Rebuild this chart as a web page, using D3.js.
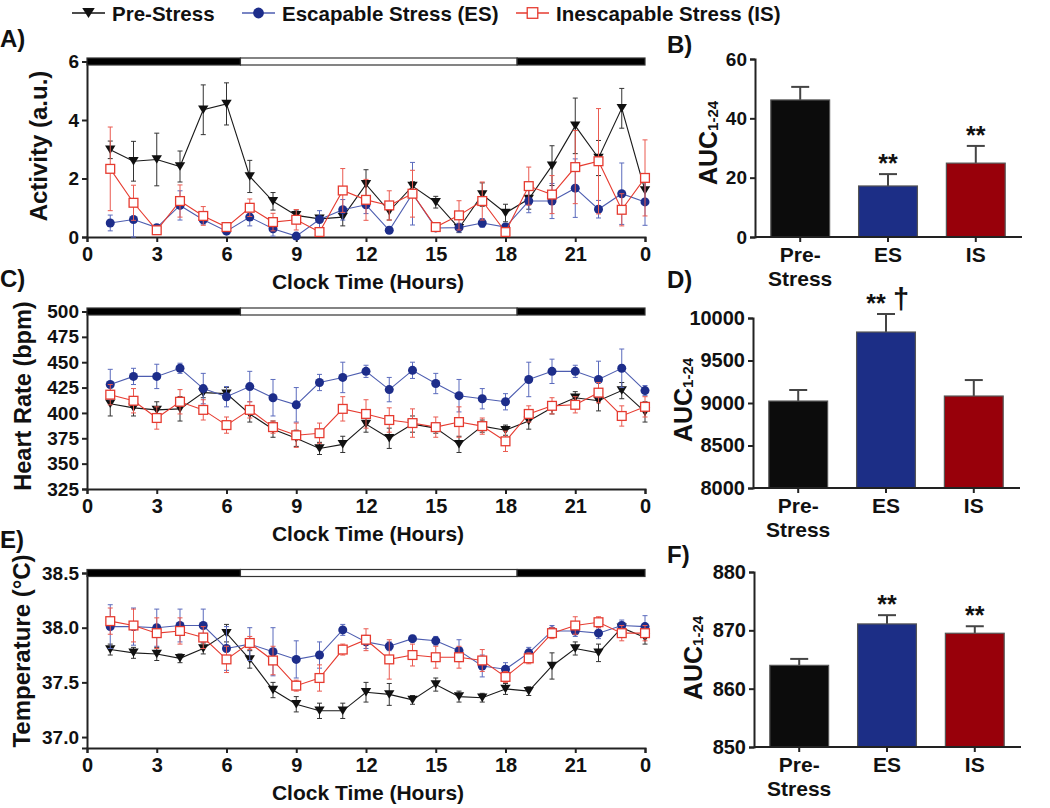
<!DOCTYPE html>
<html>
<head>
<meta charset="utf-8">
<script src="https://d3js.org/d3.v7.min.js"></script>
<style>
html,body{margin:0;padding:0;background:#fff;}
svg text{font-family:"Liberation Sans",Arial,Helvetica,sans-serif;font-weight:bold;fill:#111;}
</style>
</head>
<body>
<svg id="chart" width="1050" height="808"></svg>
<script>
// ---------------- DATA ----------------
const hours = [1,2,3,4,5,6,7,8,9,10,11,12,13,14,15,16,17,18,19,20,21,22,23,24];
const xTickValues = [0,3,6,9,12,15,18,21,24];
const xTickLabels = ["0","3","6","9","12","15","18","21","0"];
const seriesNames = ["Pre-Stress","Escapable Stress (ES)","Inescapable Stress (IS)"];
const barCategories = ["Pre-Stress","ES","IS"];
// light/dark schedule (hours)
const lightPhases = [{start:0,end:6.6,dark:true},{start:6.6,end:18.5,dark:false},{start:18.5,end:24,dark:true}];

// Activity (a.u.)
const actPre    = [2.98,2.59,2.65,2.41,4.35,4.55,2.07,1.22,0.74,0.62,0.68,1.80,0.88,1.74,1.19,0.30,1.45,0.82,1.30,2.44,3.80,2.70,4.40,1.59];
const actPreErr = [0.30,0.68,0.90,0.53,0.85,0.72,0.55,0.30,0.18,0.10,0.30,0.50,0.30,0.15,0.20,0.15,0.40,0.30,0.35,0.68,0.95,0.60,0.68,0.30];
const actES     = [0.48,0.60,0.32,1.08,0.59,0.20,0.68,0.28,0.03,0.60,0.93,1.10,0.23,1.48,0.31,0.32,0.48,0.34,1.23,1.23,1.67,0.95,1.48,1.20];
const actESErr  = [0.27,0.60,0.10,0.50,0.15,0.05,0.30,0.25,0.05,0.30,0.35,0.30,0.05,1.07,0.10,0.15,0.15,0.10,0.40,0.60,1.00,0.30,1.05,0.80];
const actIS     = [2.33,1.17,0.23,1.23,0.72,0.34,1.00,0.51,0.59,0.17,1.59,1.27,1.08,1.48,0.34,0.74,1.23,0.17,1.74,1.45,2.39,2.59,0.93,2.02];
const actISErr  = [1.43,0.60,0.05,0.55,0.32,0.10,0.30,0.30,0.35,0.05,0.75,0.70,0.50,0.80,0.10,0.50,0.65,0.10,0.65,0.65,1.25,1.80,0.55,1.30];

// Heart rate (bpm)
const hrPre    = [409,405,403,404,420,419,399,384,375,365,369,389,375,389,385,369,387,383,392,405,415,412,422,401];
const hrPreErr = [12,8,8,12,5,6,8,8,8,6,8,8,10,8,5,8,6,5,8,6,6,10,8,10];
const hrES     = [428,436,436,444,424,416,426,415,408,430,435,441,423,442,429,417,414,411,433,441,441,433,444,422];
const hrESErr  = [15,8,12,5,15,10,15,18,17,8,15,6,12,8,10,16,10,8,17,12,6,18,19,5];
const hrIS     = [418,412,395,411,403,388,403,386,378,380,404,399,393,390,386,391,387,372,399,407,408,420,397,406];
const hrISErr  = [10,12,11,12,10,8,8,6,12,10,12,14,12,14,10,15,8,10,8,8,8,10,10,10];

// Temperature (°C)
const tPre    = [37.80,37.77,37.76,37.72,37.81,37.95,37.71,37.43,37.30,37.24,37.24,37.41,37.39,37.34,37.48,37.37,37.36,37.44,37.42,37.65,37.81,37.77,38.00,37.91];
const tPreErr = [0.05,0.05,0.06,0.04,0.05,0.08,0.08,0.07,0.07,0.07,0.07,0.09,0.10,0.04,0.06,0.05,0.04,0.05,0.04,0.12,0.06,0.08,0.05,0.06];
const tES     = [38.01,38.01,38.00,38.02,38.02,37.81,37.85,37.78,37.71,37.75,37.98,37.87,37.83,37.90,37.88,37.79,37.65,37.62,37.77,37.97,37.97,37.95,38.02,38.01];
const tESErr  = [0.20,0.17,0.17,0.15,0.15,0.20,0.15,0.22,0.17,0.12,0.05,0.06,0.04,0.03,0.04,0.10,0.10,0.06,0.05,0.05,0.05,0.05,0.05,0.10];
const tIS     = [38.06,38.02,37.95,37.97,37.91,37.71,37.86,37.70,37.47,37.54,37.80,37.89,37.71,37.75,37.73,37.73,37.70,37.55,37.72,37.95,38.02,38.05,37.95,37.95];
const tISErr  = [0.12,0.15,0.14,0.12,0.10,0.12,0.06,0.13,0.05,0.12,0.05,0.10,0.18,0.10,0.10,0.10,0.10,0.05,0.05,0.05,0.08,0.05,0.07,0.07];

// AUC 1-24
const aucAct     = [46.2, 17.2, 24.9];
const aucActErr  = [4.4, 4.0, 5.8];
const aucActSig  = ["", "**", "**"];
const aucHR      = [9023, 9835, 9082];
const aucHRErr   = [130, 212, 188];
const aucHRSig   = ["", "**", ""];
const aucHRSig2  = ["", "†", ""];
const aucTemp    = [864.0, 871.1, 869.5];
const aucTempErr = [1.1, 1.5, 1.2];
const aucTempSig = ["", "**", "**"];

// ---------------- STYLE ----------------
const C = {
  pre:  {line:"#1a1a1a", mark:"#111", err:"#333"},
  es:   {line:"#4d5db0", mark:"#1d2d8a", err:"#5b6bbd"},
  is:   {line:"#e63b30", mark:"#e63b30", err:"#ea5a50"}
};
const barFill = ["#0c0c0c", "#1c2e86", "#98000a"];

const svg = d3.select("#chart");

function drawMarker(g, shape, cx, cy, c, s) {
  s = s || 1;
  if (shape === "tri") {
    const w = 5.2*s, h = 8.5*s;
    g.append("path").attr("d", `M${cx-w},${cy-h/2} L${cx+w},${cy-h/2} L${cx},${cy+h/2} Z`).attr("fill", c.mark);
  } else if (shape === "circle") {
    g.append("circle").attr("cx", cx).attr("cy", cy).attr("r", 4.5*s).attr("fill", c.mark);
  } else {
    const a = 4.4*s;
    g.append("rect").attr("x", cx-a).attr("y", cy-a).attr("width", 2*a).attr("height", 2*a)
      .attr("fill", "#fff").attr("stroke", c.mark).attr("stroke-width", 1.3);
  }
}

// ---------------- LEGEND ----------------
const legend = svg.append("g");
const legItems = [
  {x:72, name:seriesNames[0], c:C.pre, shape:"tri"},
  {x:242, name:seriesNames[1], c:C.es, shape:"circle"},
  {x:516, name:seriesNames[2], c:C.is, shape:"square"}
];
legItems.forEach(it => {
  legend.append("line").attr("x1", it.x).attr("x2", it.x+33).attr("y1", 13).attr("y2", 13)
    .attr("stroke", it.shape==="tri" ? "#111" : it.c.line).attr("stroke-width", 1.6);
  drawMarker(legend, it.shape, it.x+16.5, 13, it.c, 1.2);
  legend.append("text").attr("x", it.x+40).attr("y", 21).attr("font-size", 20.5).text(it.name);
});

// ---------------- LINE PANELS ----------------
function linePanel(cfg) {
  const g = svg.append("g");
  const x = d3.scaleLinear().domain([0,24]).range([87,645]);
  const y = d3.scaleLinear().domain(cfg.yDomain).range(cfg.yRange);
  const bottom = cfg.yRange[0], top = cfg.yRange[1];

  // y axis
  const ya = g.append("g").attr("transform", `translate(87,0)`)
    .call(d3.axisLeft(y).tickValues(cfg.yTicks).tickFormat(cfg.yFmt).tickSize(5).tickPadding(3));
  ya.select(".domain").attr("stroke", "#222").attr("stroke-width", 2);
  ya.selectAll(".tick line").attr("stroke", "#222").attr("stroke-width", 2);
  ya.selectAll(".tick text").attr("font-size", 19).attr("fill", "#111").attr("font-family", null);

  // x axis
  const xa = g.append("g").attr("transform", `translate(0,${bottom})`)
    .call(d3.axisBottom(x).tickValues(xTickValues).tickFormat((d,i) => xTickLabels[i]).tickSize(5).tickPadding(5));
  xa.select(".domain").attr("stroke", "#222").attr("stroke-width", 2);
  xa.selectAll(".tick line").attr("stroke", "#222").attr("stroke-width", 2);
  xa.selectAll(".tick text").attr("font-size", 20).attr("fill", "#111").attr("font-family", null);

  // light/dark bar
  lightPhases.forEach(p => {
    g.append("rect").attr("x", x(p.start)).attr("y", top-3.5).attr("width", x(p.end)-x(p.start)).attr("height", 7)
      .attr("fill", p.dark ? "#000" : "#fff").attr("stroke", "#333").attr("stroke-width", 1.2);
  });

  // titles
  g.append("text").attr("x", 368).attr("y", bottom + 52).attr("text-anchor", "middle")
    .attr("font-size", 21).text("Clock Time (Hours)");
  g.append("text").attr("transform", `translate(${cfg.yTitleX},${cfg.yTitleY}) rotate(-90)`)
    .attr("text-anchor", "middle").attr("font-size", cfg.yTitleSize).text(cfg.yTitle);

  // series
  const series = [
    {v:cfg.pre, e:cfg.preErr, c:C.pre, shape:"tri"},
    {v:cfg.es, e:cfg.esErr, c:C.es, shape:"circle"},
    {v:cfg.is, e:cfg.isErr, c:C.is, shape:"square"}
  ];
  series.forEach(s => {
    const sg = g.append("g");
    hours.forEach((h,i) => {
      const x0 = x(h), y1 = y(s.v[i]-s.e[i]), y2 = y(s.v[i]+s.e[i]);
      sg.append("line").attr("x1", x0).attr("x2", x0).attr("y1", y1).attr("y2", y2).attr("stroke", s.c.err).attr("stroke-width", 1);
      [y1,y2].forEach(yy => sg.append("line").attr("x1", x0-2.5).attr("x2", x0+2.5).attr("y1", yy).attr("y2", yy)
        .attr("stroke", s.c.err).attr("stroke-width", 1));
    });
    const line = d3.line().x((d,i) => x(hours[i])).y(d => y(d));
    sg.append("path").attr("d", line(s.v)).attr("fill", "none").attr("stroke", s.c.line).attr("stroke-width", 1.1);
    hours.forEach((h,i) => drawMarker(sg, s.shape, x(h), y(s.v[i]), s.c, 1));
  });

  svg.append("text").attr("x", 0).attr("y", cfg.labelY).attr("font-size", 24).text(cfg.label);
}

linePanel({label:"A)", labelY:47, yDomain:[0,6], yRange:[237,61.5], yTicks:[0,2,4,6], yFmt:d3.format("d"),
  yTitle:"Activity (a.u.)", yTitleX:47, yTitleY:146, yTitleSize:24,
  pre:actPre, preErr:actPreErr, es:actES, esErr:actESErr, is:actIS, isErr:actISErr});
linePanel({label:"C)", labelY:287, yDomain:[325,500], yRange:[489,311.5], yTicks:[325,350,375,400,425,450,475,500], yFmt:d3.format("d"),
  yTitle:"Heart Rate (bpm)", yTitleX:31, yTitleY:396, yTitleSize:23.5,
  pre:hrPre, preErr:hrPreErr, es:hrES, esErr:hrESErr, is:hrIS, isErr:hrISErr});
linePanel({label:"E)", labelY:548, yDomain:[36.9,38.5], yRange:[748,573], yTicks:[37.0,37.5,38.0,38.5], yFmt:d3.format(".1f"),
  yTitle:"Temperature (°C)", yTitleX:30, yTitleY:651, yTitleSize:24,
  pre:tPre, preErr:tPreErr, es:tES, esErr:tESErr, is:tIS, isErr:tISErr});

// ---------------- BAR PANELS ----------------
function barPanel(cfg) {
  const g = svg.append("g");
  const x = d3.scaleBand().domain(barCategories).range([cfg.axisX, cfg.axisX + 266]).paddingInner(0.33).paddingOuter(0.18);
  const y = d3.scaleLinear().domain(cfg.yDomain).range(cfg.yRange);
  const bottom = cfg.yRange[0];

  barCategories.forEach((c,i) => {
    const bx = x(c), bw = x.bandwidth(), cx = bx + bw/2;
    const errTop = y(cfg.vals[i] + cfg.errs[i]);
    g.append("line").attr("x1", cx).attr("x2", cx).attr("y1", y(cfg.vals[i])).attr("y2", errTop)
      .attr("stroke", "#444").attr("stroke-width", 2);
    g.append("line").attr("x1", cx-9).attr("x2", cx+9).attr("y1", errTop).attr("y2", errTop)
      .attr("stroke", "#444").attr("stroke-width", 2);
    g.append("rect").attr("x", bx).attr("y", y(cfg.vals[i])).attr("width", bw).attr("height", bottom - y(cfg.vals[i]))
      .attr("fill", barFill[i]).attr("stroke", "#555").attr("stroke-width", 1.2);
    if (cfg.sig[i]) {
      g.append("text").attr("x", cfg.sig2 && cfg.sig2[i] ? cx - 10 : cx).attr("y", errTop - 2)
        .attr("text-anchor", "middle").attr("font-size", 25).text(cfg.sig[i]);
    }
    if (cfg.sig2 && cfg.sig2[i]) {
      g.append("text").attr("x", cx + 15).attr("y", errTop - 5)
        .attr("text-anchor", "middle").attr("font-size", 29).text(cfg.sig2[i]);
    }
  });

  const ya = g.append("g").attr("transform", `translate(${cfg.axisX},0)`)
    .call(d3.axisLeft(y).tickValues(cfg.yTicks).tickFormat(d3.format("d")).tickSize(5).tickPadding(3));
  ya.select(".domain").attr("stroke", "#222").attr("stroke-width", 2);
  ya.selectAll(".tick line").attr("stroke", "#222").attr("stroke-width", 2);
  ya.selectAll(".tick text").attr("font-size", cfg.tickSize).attr("fill", "#111").attr("font-family", null);

  const xa = g.append("g").attr("transform", `translate(0,${bottom})`)
    .call(d3.axisBottom(x).tickSize(5).tickFormat(""));
  xa.select(".domain").attr("stroke", "#222").attr("stroke-width", 2).attr("d", `M${cfg.axisX},0H${cfg.axisX+267}`);
  xa.selectAll(".tick line").attr("stroke", "#222").attr("stroke-width", 2);
  barCategories.forEach((c,i) => {
    const cx = x(c) + x.bandwidth()/2;
    if (c === "Pre-Stress") {
      g.append("text").attr("x", cx).attr("y", bottom + 25).attr("text-anchor", "middle").attr("font-size", 21).text("Pre-");
      g.append("text").attr("x", cx).attr("y", bottom + 49).attr("text-anchor", "middle").attr("font-size", 21).text("Stress");
    } else {
      g.append("text").attr("x", cx).attr("y", bottom + 25).attr("text-anchor", "middle").attr("font-size", 21).text(c);
    }
  });

  const t = g.append("text").attr("transform", `translate(${cfg.yTitleX},${cfg.yTitleY}) rotate(-90)`)
    .attr("text-anchor", "middle").attr("font-size", 25);
  t.append("tspan").text("AUC");
  t.append("tspan").attr("font-size", 15).attr("dy", 1).text("1-24");

  svg.append("text").attr("x", 667).attr("y", cfg.labelY).attr("font-size", 24).text(cfg.label);
}

barPanel({label:"B)", labelY:53, axisX:755, yDomain:[0,60], yRange:[237,59], yTicks:[0,20,40,60], tickSize:19,
  vals:aucAct, errs:aucActErr, sig:aucActSig, yTitleX:717, yTitleY:143});
barPanel({label:"D)", labelY:288, axisX:753, yDomain:[8000,10000], yRange:[488,318], yTicks:[8000,8500,9000,9500,10000], tickSize:20,
  vals:aucHR, errs:aucHRErr, sig:aucHRSig, sig2:aucHRSig2, yTitleX:692, yTitleY:400});
barPanel({label:"F)", labelY:563, axisX:754, yDomain:[850,880], yRange:[747,572], yTicks:[850,860,870,880], tickSize:20,
  vals:aucTemp, errs:aucTempErr, sig:aucTempSig, yTitleX:702, yTitleY:658});
</script>
</body>
</html>
